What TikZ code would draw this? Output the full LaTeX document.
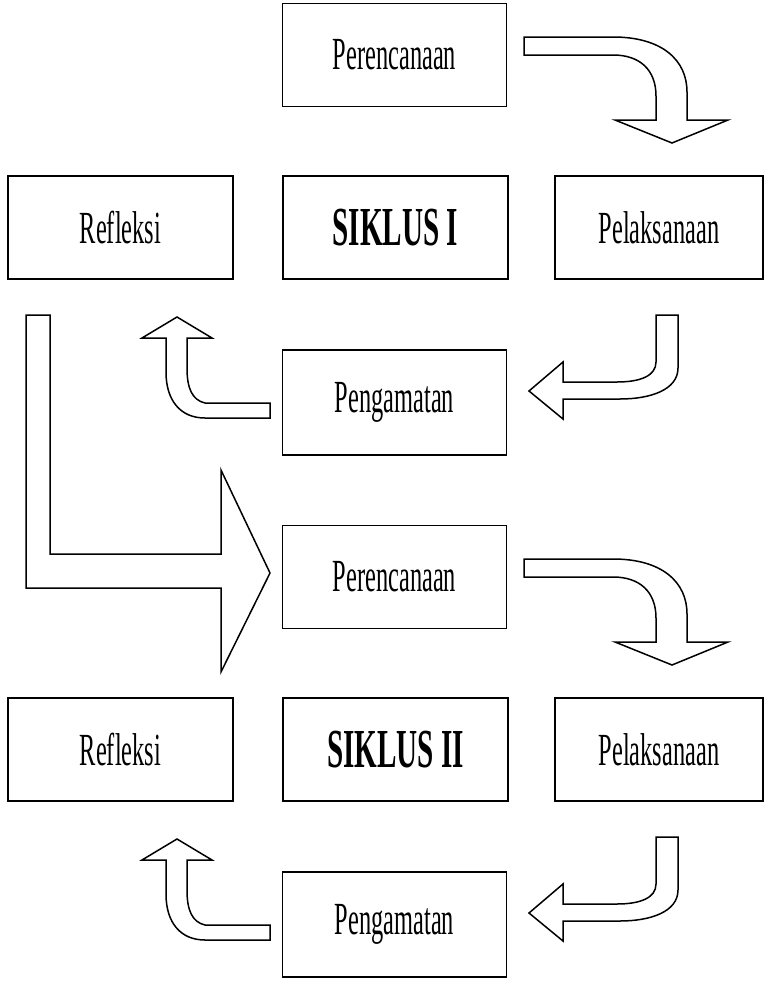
\documentclass[tikz,border=0pt]{standalone}
\usepackage{fontspec}
\newfontfamily\kotakfont[FakeStretch=0.53]{Liberation Serif}
\usepackage{tikz}

\begin{document}
\begin{tikzpicture}[x=1pt,y=-1pt,
   kotak/.style={draw,rectangle,line width=1.8pt,inner sep=0pt,minimum width=224pt,minimum height=103pt,font=\kotakfont\fontsize{46}{52}\selectfont},
   siklus/.style={kotak,font=\kotakfont\fontsize{55}{60}\selectfont\bfseries},
   panah/.style={draw,line width=1.5pt,line join=miter,fill=white}]
   \useasboundingbox (0,0) rectangle (768,985);

   % siklus I
   \draw (394.5,55) node[kotak] (rencana1) {Perencanaan};
     \draw (120.5,227.5) node[kotak,minimum width=225pt] (refleksi1) {Refleksi};
     \draw (395.5,227.5) node[siklus,minimum width=225pt] (siklus1) {SIKLUS I};
     \draw (659,227.5) node[kotak,minimum width=208pt] (laksana1) {Pelaksanaan};
   \draw (394.5,402.5) node[kotak,minimum height=105pt] (amat1) {Pengamatan};

   \path[panah] (524,37) -- (613,37) .. controls (662,37) and (687,60) .. (687,92) -- (687,120)
      -- (728,120) -- (672,143) -- (615,120) -- (656,120) -- (656,96)
      .. controls (656,70) and (640,55) .. (613,55) -- (524,55) -- cycle;
   \path[panah] (656,315) -- (678,315) -- (678,368) .. controls (678,390) and (650,399) .. (620,399)
      -- (563,399) -- (563,419) -- (529,391) -- (563,362) -- (563,382) -- (617,382)
      .. controls (640,382) and (656,376) .. (656,362) -- cycle;
   \path[panah] (270,403) -- (205,403) .. controls (192,400) and (187,388) .. (187,368)
      -- (187,338) -- (212,338) -- (177,317) -- (142,338) -- (166,338) -- (166,372)
      .. controls (166,400) and (180,418) .. (205,418) -- (270,418) -- cycle;

   % panah ke siklus II
   \path[panah] (26,315) -- (50,315) -- (50,554) -- (221,554) -- (221,470) -- (270,573)
      -- (221,672) -- (221,588) -- (26,588) -- cycle;

   % siklus II
   \draw (394.5,577) node[kotak] (rencana2) {Perencanaan};
     \draw (120.5,749.5) node[kotak,minimum width=225pt] (refleksi2) {Refleksi};
     \draw (395.5,749.5) node[siklus,minimum width=225pt] (siklus2) {SIKLUS II};
     \draw (659,749.5) node[kotak,minimum width=208pt] (laksana2) {Pelaksanaan};
   \draw (394.5,924.5) node[kotak,minimum height=105pt] (amat2) {Pengamatan};

   \path[panah] (524,559) -- (613,559) .. controls (662,559) and (687,582) .. (687,614) -- (687,642)
      -- (728,642) -- (672,665) -- (615,642) -- (656,642) -- (656,618)
      .. controls (656,592) and (640,577) .. (613,577) -- (524,577) -- cycle;
   \path[panah] (656,837) -- (678,837) -- (678,890) .. controls (678,912) and (650,921) .. (620,921)
      -- (563,921) -- (563,941) -- (529,913) -- (563,884) -- (563,904) -- (617,904)
      .. controls (640,904) and (656,898) .. (656,884) -- cycle;
   \path[panah] (270,925) -- (205,925) .. controls (192,922) and (187,910) .. (187,890)
      -- (187,860) -- (212,860) -- (177,839) -- (142,860) -- (166,860) -- (166,894)
      .. controls (166,922) and (180,940) .. (205,940) -- (270,940) -- cycle;
\end{tikzpicture}
\end{document}
